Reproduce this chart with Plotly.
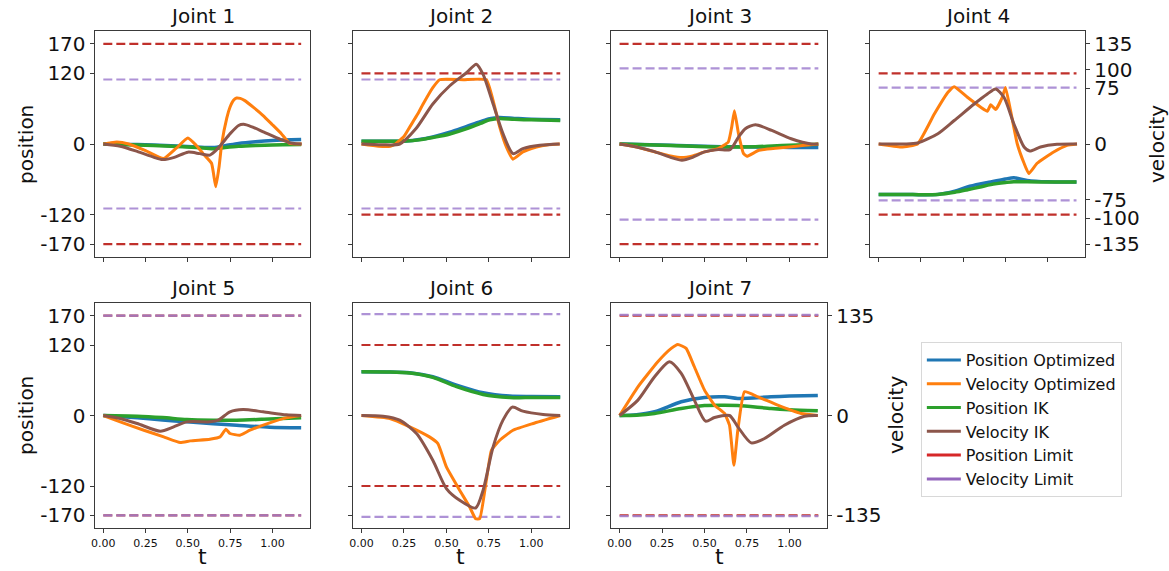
import plotly.graph_objects as go

# ---------------- data (t in s, position / velocity in deg, deg/s) ----------------
# Joint 1
j1_pos_t = [0, 0.2, 0.4, 0.55, 0.65, 0.72, 0.8, 0.9, 1.0, 1.17]
j1_pos_opt = [0, -1, -3, -5, -6, -3, 1, 4, 6, 7.5]
j1_pos_ik = [0, -1.5, -4, -6, -8, -6, -4, -2.5, -1.5, -1]
j1_vel_opt_t = [0, 0.04, 0.08, 0.15, 0.25, 0.357, 0.43, 0.5, 0.55, 0.59, 0.64, 0.665, 0.685, 0.70, 0.73, 0.749, 0.77, 0.788, 0.81, 0.837, 0.89, 0.945, 1.0, 1.053, 1.10, 1.173]
j1_vel_opt = [0, 1.5, 2.7, 0, -9, -19.7, -6, 8, -2, -13, -26, -57.6, -30, 0, 35, 49.6, 59, 62, 61.5, 58.5, 49, 38.4, 26, 13.9, 1.3, 0]
j1_vel_ik_t = [0, 0.1, 0.2, 0.3, 0.35, 0.42, 0.5, 0.57, 0.63, 0.66, 0.7, 0.75, 0.8, 0.83, 0.88, 0.95, 1.05, 1.12, 1.173]
j1_vel_ik = [0, -3, -10, -18, -21, -18, -11, -13, -15, -10, 0, 14, 25, 26.5, 23, 16, 6, 1, 0]

# Joint 2
j2_pos_t = [0, 0.15, 0.26, 0.34, 0.42, 0.52, 0.62, 0.7, 0.755, 0.81, 0.9, 1.0, 1.17]
j2_pos_opt = [4.5, 4.5, 5, 7.5, 12, 20, 30, 38, 43, 45, 43.5, 42, 41.4]
j2_pos_ik = [4.5, 4.5, 5, 7, 11, 17, 26, 35, 41, 43.5, 42, 41, 40]
j2_vel_opt_t = [0, 0.1, 0.17, 0.2, 0.25, 0.284, 0.33, 0.363, 0.42, 0.46, 0.6, 0.735, 0.775, 0.814, 0.853, 0.892, 0.95, 1.03, 1.1, 1.167]
j2_vel_opt = [0, -3, -3, 0, 10, 22.8, 40, 54, 76, 86.7, 86.7, 86.7, 58.5, 22.8, -4, -20.5, -10.7, -4, -1, 0]
j2_vel_ik_t = [0, 0.12, 0.225, 0.32, 0.42, 0.52, 0.62, 0.676, 0.716, 0.775, 0.833, 0.892, 0.95, 1.05, 1.167]
j2_vel_ik = [0, -1, 0, 20.5, 54, 78.6, 96.5, 107.7, 94, 54, 13.9, -13, -6.3, -1.8, 0]

# Joint 3
j3_pos_t = [0, 0.3, 0.6, 0.8, 0.9, 1.0, 1.17]
j3_pos_opt = [0, -2, -4.5, -5.2, -5.5, -5.8, -6]
j3_pos_ik = [0, -2.5, -5, -4.5, -3.2, -2, -0.5]
j3_vel_opt_t = [0, 0.1, 0.21, 0.3, 0.367, 0.43, 0.5, 0.58, 0.64, 0.66, 0.676, 0.70, 0.73, 0.75, 0.82, 0.935, 1.09, 1.17]
j3_vel_opt = [0, -4, -10.7, -16, -18.3, -16, -10.7, -6.3, 2.7, 22.8, 45, 13.9, -13, -16.5, -8.5, -5.4, -1.8, 0]
j3_vel_ik_t = [0, 0.1, 0.21, 0.3, 0.367, 0.43, 0.5, 0.58, 0.65, 0.70, 0.74, 0.8, 0.896, 1.01, 1.13, 1.17]
j3_vel_ik = [0, -4, -10.7, -18, -21.9, -18, -10.7, -7.6, -7.6, 9.4, 20.6, 26, 18.3, 7.1, 0, 0]

# Joint 4
j4_pos_t = [0, 0.2, 0.35, 0.45, 0.525, 0.6, 0.663, 0.75, 0.8, 0.878, 1.0, 1.17]
j4_pos_opt = [-85.6, -86, -85.6, -80, -73, -68, -64.6, -59.5, -57.3, -61.8, -64.3, -64.6]
j4_pos_ik = [-85.6, -86, -85.6, -82, -77.7, -73, -69, -65.5, -64, -64.3, -64.6, -64.6]
j4_vel_opt_t = [0, 0.133, 0.23, 0.33, 0.41, 0.447, 0.525, 0.604, 0.643, 0.663, 0.692, 0.731, 0.75, 0.78, 0.82, 0.86, 0.888, 0.937, 1.035, 1.114, 1.173]
j4_vel_opt = [0, -4, 0, 40.7, 69.7, 77.3, 63, 49.6, 44.2, 53, 46.5, 63, 76.4, 45, 0, -26, -39.8, -26, -10.7, -1.8, 0]
j4_vel_ik_t = [0, 0.15, 0.23, 0.35, 0.447, 0.565, 0.643, 0.692, 0.741, 0.8, 0.86, 0.894, 0.957, 1.055, 1.173]
j4_vel_ik = [0, 0, 1.3, 13.9, 31.7, 54, 67.5, 74.2, 63, 27, -4, -9.4, -4, -0.4, 0]

# Joint 5
j5_pos_t = [0, 0.2, 0.35, 0.494, 0.65, 0.788, 0.984, 1.17]
j5_pos_opt = [0, -4, -7.5, -10.8, -14, -16.5, -19.9, -21]
j5_pos_ik = [0, -1.1, -3.5, -6.8, -8, -8, -6, -4]
j5_vel_opt_t = [0, 0.1, 0.24, 0.357, 0.455, 0.514, 0.63, 0.69, 0.725, 0.749, 0.808, 0.867, 0.984, 1.082, 1.17]
j5_vel_opt = [0, -8.6, -19.9, -28.9, -36.6, -34.3, -32, -28.9, -18.5, -24.4, -26.6, -19.9, -9.9, -3.2, 0]
j5_vel_ik_t = [0, 0.1, 0.2, 0.337, 0.416, 0.494, 0.63, 0.68, 0.749, 0.827, 0.945, 1.082, 1.17]
j5_vel_ik = [0, -4, -10.8, -21.2, -15.3, -8.6, -8.6, -6.3, 5, 8.1, 5, 0.9, 0]

# Joint 6
j6_pos_t = [0, 0.15, 0.284, 0.42, 0.56, 0.716, 0.873, 1.0, 1.17]
j6_pos_opt = [74.5, 74.2, 72.8, 66, 51.8, 38.7, 33, 32.2, 31.9]
j6_pos_ik = [74.5, 74.2, 72.5, 65, 49, 35.8, 30.7, 30.5, 30.5]
j6_vel_opt_t = [0, 0.167, 0.284, 0.4, 0.45, 0.5, 0.578, 0.637, 0.672, 0.696, 0.735, 0.765, 0.814, 0.892, 1.01, 1.17]
j6_vel_opt = [0, -4, -15.3, -28.9, -37.9, -69.5, -101, -123.7, -139.5, -139.5, -87.6, -47, -33.4, -19.9, -10.8, 0]
j6_vel_ik_t = [0, 0.127, 0.225, 0.324, 0.42, 0.5, 0.578, 0.672, 0.716, 0.775, 0.833, 0.888, 0.95, 1.069, 1.17]
j6_vel_ik = [0, -1, -6.3, -24.4, -60.5, -98.8, -114.6, -125, -101, -42.4, -6.3, 11.3, 5.9, 1.4, 0]

# Joint 7
j7_pos_t = [0, 0.1, 0.206, 0.363, 0.5, 0.618, 0.696, 0.892, 1.0, 1.167]
j7_pos_opt = [0, 1.5, 6.3, 23.3, 30.7, 31.9, 29, 31.9, 33, 34.1]
j7_pos_ik = [0, 0.5, 3.4, 12, 17, 17.5, 17, 12, 10, 8]
j7_vel_opt_t = [0, 0.108, 0.225, 0.304, 0.343, 0.392, 0.44, 0.5, 0.559, 0.618, 0.647, 0.673, 0.696, 0.735, 0.814, 0.931, 1.069, 1.167]
j7_vel_opt = [0, 38.8, 72.7, 90.7, 96.1, 90.7, 65.9, 34.3, 14, 2.7, -13.1, -67.3, -19.9, 32, 25.3, 14, 2.7, 0]
j7_vel_ik_t = [0, 0.108, 0.206, 0.294, 0.363, 0.44, 0.506, 0.559, 0.647, 0.696, 0.775, 0.853, 0.97, 1.088, 1.167]
j7_vel_ik = [0, 20.8, 52.4, 72.7, 56.9, 20.8, -7.7, -2.7, 0, -15.3, -37, -31.1, -13.1, -0.9, 0]

# Limits (position on left axis, velocity on right axis)
pos_limits = [170, 120, 170, 120, 170, 120, 170]
vel_limits = [87, 87, 102, 76, 135, 137, 136]
t_end = 1.17

joint_names = ["Joint 1", "Joint 2", "Joint 3", "Joint 4", "Joint 5", "Joint 6", "Joint 7"]
pos_ticks = [-170, -120, 0, 120, 170]
vel_ticks_row1 = [-135, -100, -75, 0, 75, 100, 135]
vel_ticks_row2 = [-135, 0, 135]
t_ticks = [0, 0.25, 0.5, 0.75, 1.0]
t_tick_text = ["0.00", "0.25", "0.50", "0.75", "1.00"]

series = [
    (j1_pos_t, j1_pos_opt, j1_pos_ik, j1_vel_opt_t, j1_vel_opt, j1_vel_ik_t, j1_vel_ik),
    (j2_pos_t, j2_pos_opt, j2_pos_ik, j2_vel_opt_t, j2_vel_opt, j2_vel_ik_t, j2_vel_ik),
    (j3_pos_t, j3_pos_opt, j3_pos_ik, j3_vel_opt_t, j3_vel_opt, j3_vel_ik_t, j3_vel_ik),
    (j4_pos_t, j4_pos_opt, j4_pos_ik, j4_vel_opt_t, j4_vel_opt, j4_vel_ik_t, j4_vel_ik),
    (j5_pos_t, j5_pos_opt, j5_pos_ik, j5_vel_opt_t, j5_vel_opt, j5_vel_ik_t, j5_vel_ik),
    (j6_pos_t, j6_pos_opt, j6_pos_ik, j6_vel_opt_t, j6_vel_opt, j6_vel_ik_t, j6_vel_ik),
    (j7_pos_t, j7_pos_opt, j7_pos_ik, j7_vel_opt_t, j7_vel_opt, j7_vel_ik_t, j7_vel_ik),
]

# ---------------- styling ----------------
OFF = 0                 # body margin removed by post_script
W, H = 1169, 571
C_BLUE, C_ORANGE, C_GREEN, C_BROWN = "#1f77b4", "#ff7f0e", "#2ca02c", "#8c564b"
C_RED, C_PURPLE = "#c0302b", "#a080d0"
FONT = "DejaVu Sans"
TXT = "#111111"
FRAME = "#3a3a3a"

col_x = [(91, 307), (350, 567), (609, 826), (869, 1085)]
row_y = [(31, 257), (302.7, 528.3)]
panel_pos = [(0, 0), (0, 1), (0, 2), (0, 3), (1, 0), (1, 1), (1, 2)]

POS_RANGE = [-192, 192]
VEL_RANGE = [-192 * 135 / 170, 192 * 135 / 170]
T_RANGE = [-0.051, 1.222]


def px_x(x):
    return (x - OFF) / W


def px_y(y):
    return 1 - (y - OFF) / H


def hy(v):
    return f"{v:d}".replace("\u2212", "-")


fig = go.Figure()
layout = dict(
    width=W, height=H, margin=dict(l=0, r=0, t=0, b=0),
    paper_bgcolor="white", plot_bgcolor="white",
    font=dict(family=FONT, color=TXT),
    showlegend=True,
)
annotations = []

for i in range(7):
    r, c = panel_pos[i]
    n = i + 1
    xa = f"x{n}" if n > 1 else "x"
    ya = f"y{n}" if n > 1 else "y"
    va_n = 7 + n
    va = f"y{va_n}"
    x0, x1 = col_x[c]
    yt, yb = row_y[r]
    xdom = [px_x(x0), px_x(x1)]
    ydom = [px_y(yb), px_y(yt)]

    show_xlabels = (r == 1)
    layout[f"xaxis{n if n > 1 else ''}"] = dict(
        domain=xdom, anchor=ya, range=T_RANGE, tickvals=t_ticks, ticktext=t_tick_text,
        showticklabels=show_xlabels, ticks="outside", ticklen=4, tickwidth=1, tickcolor=FRAME,
        showline=True, linecolor=FRAME, linewidth=1.2, mirror=True,
        showgrid=False, zeroline=False, tickfont=dict(size=11, color=TXT, family=FONT),
    )
    layout[f"yaxis{n if n > 1 else ''}"] = dict(
        domain=ydom, anchor=xa, range=POS_RANGE, tickvals=pos_ticks,
        ticktext=[hy(v) for v in pos_ticks],
        showticklabels=(c == 0), ticks="outside", ticklen=4, tickwidth=1, tickcolor=FRAME,
        showline=True, linecolor=FRAME, linewidth=1.2, mirror=True,
        showgrid=False, zeroline=False, tickfont=dict(size=20, color=TXT, family=FONT),
    )
    right_labels = n in (4, 7)
    vt = (vel_ticks_row1 if n == 4 else vel_ticks_row2) if right_labels else []
    layout[f"yaxis{va_n}"] = dict(
        overlaying=ya, anchor=xa, side="right", range=VEL_RANGE,
        tickvals=vt, ticktext=[hy(v) for v in vt],
        showticklabels=right_labels, ticks="outside" if right_labels else "",
        ticklen=4, tickwidth=1, tickcolor=FRAME,
        showline=False, showgrid=False, zeroline=False,
        tickfont=dict(size=20, color=TXT, family=FONT),
    )

    pt, p_opt, p_ik, vot, v_opt, vit, v_ik = series[i]
    pl = pos_limits[i]
    vl = vel_limits[i]
    # position-axis traces
    for s in (1, -1):
        fig.add_trace(go.Scatter(x=[0, t_end], y=[s * pl, s * pl], xaxis=xa, yaxis=ya, mode="lines",
                                 line=dict(color=C_RED, width=2.2, dash="9px,4px"), showlegend=False))
    fig.add_trace(go.Scatter(x=pt, y=p_opt, xaxis=xa, yaxis=ya, mode="lines",
                             line=dict(color=C_BLUE, width=3.5, shape="spline", smoothing=0.8), showlegend=False))
    fig.add_trace(go.Scatter(x=pt, y=p_ik, xaxis=xa, yaxis=ya, mode="lines",
                             line=dict(color=C_GREEN, width=3.5, shape="spline", smoothing=0.8), showlegend=False))
    # velocity-axis traces
    for s in (1, -1):
        fig.add_trace(go.Scatter(x=[0, t_end], y=[s * vl, s * vl], xaxis=xa, yaxis=va, mode="lines",
                                 line=dict(color=C_PURPLE, width=2.2, dash="9px,4px"), opacity=0.85,
                                 showlegend=False))
    fig.add_trace(go.Scatter(x=vot, y=v_opt, xaxis=xa, yaxis=va, mode="lines",
                             line=dict(color=C_ORANGE, width=3, shape="spline", smoothing=0.4), showlegend=False))
    fig.add_trace(go.Scatter(x=vit, y=v_ik, xaxis=xa, yaxis=va, mode="lines",
                             line=dict(color=C_BROWN, width=3, shape="spline", smoothing=0.7), showlegend=False))

    # panel title
    annotations.append(dict(text=joint_names[i], xref="paper", yref="paper",
                            x=px_x((x0 + x1) / 2), y=px_y(yt - 1),
                            xanchor="center", yanchor="bottom", showarrow=False,
                            font=dict(size=20, family=FONT, color=TXT)))
    if r == 1:
        annotations.append(dict(text="t", xref="paper", yref="paper",
                                x=px_x((x0 + x1) / 2), y=px_y(556),
                                xanchor="center", yanchor="middle", showarrow=False,
                                font=dict(size=22, family=FONT, color=TXT)))

# axis titles
for yc in (144, 415):
    annotations.append(dict(text="position", xref="paper", yref="paper",
                            x=px_x(22), y=px_y(yc), textangle=-90,
                            xanchor="center", yanchor="middle", showarrow=False,
                            font=dict(size=20, family=FONT, color=TXT)))
annotations.append(dict(text="velocity", xref="paper", yref="paper",
                        x=px_x(1157), y=px_y(144), textangle=-90,
                        xanchor="center", yanchor="middle", showarrow=False,
                        font=dict(size=20, family=FONT, color=TXT)))
annotations.append(dict(text="velocity", xref="paper", yref="paper",
                        x=px_x(895), y=px_y(415), textangle=-90,
                        xanchor="center", yanchor="middle", showarrow=False,
                        font=dict(size=20, family=FONT, color=TXT)))

# legend proxies (solid lines as in the original legend)
legend_items = [("Position Optimized", C_BLUE), ("Velocity Optimized", C_ORANGE),
                ("Position IK", C_GREEN), ("Velocity IK", C_BROWN),
                ("Position Limit", "#d62728"), ("Velocity Limit", "#9467bd")]
for name, col in legend_items:
    fig.add_trace(go.Scatter(x=[None], y=[None], xaxis="x", yaxis="y", mode="lines",
                             name=name, line=dict(color=col, width=3), showlegend=True))

layout["legend"] = dict(x=px_x(920), y=px_y(342), xanchor="left", yanchor="top",
                        bgcolor="white", bordercolor="#d8d8d8", borderwidth=1,
                        font=dict(size=16, family=FONT, color=TXT), tracegroupgap=0,
                        itemwidth=34)
layout["annotations"] = annotations
fig.update_layout(**layout)

fig.write_html("out.html",
               config={"displayModeBar": False, "staticPlot": False},
               post_script="document.body.style.margin='0';document.body.style.overflow='hidden';"
                           "document.documentElement.style.overflow='hidden';")
